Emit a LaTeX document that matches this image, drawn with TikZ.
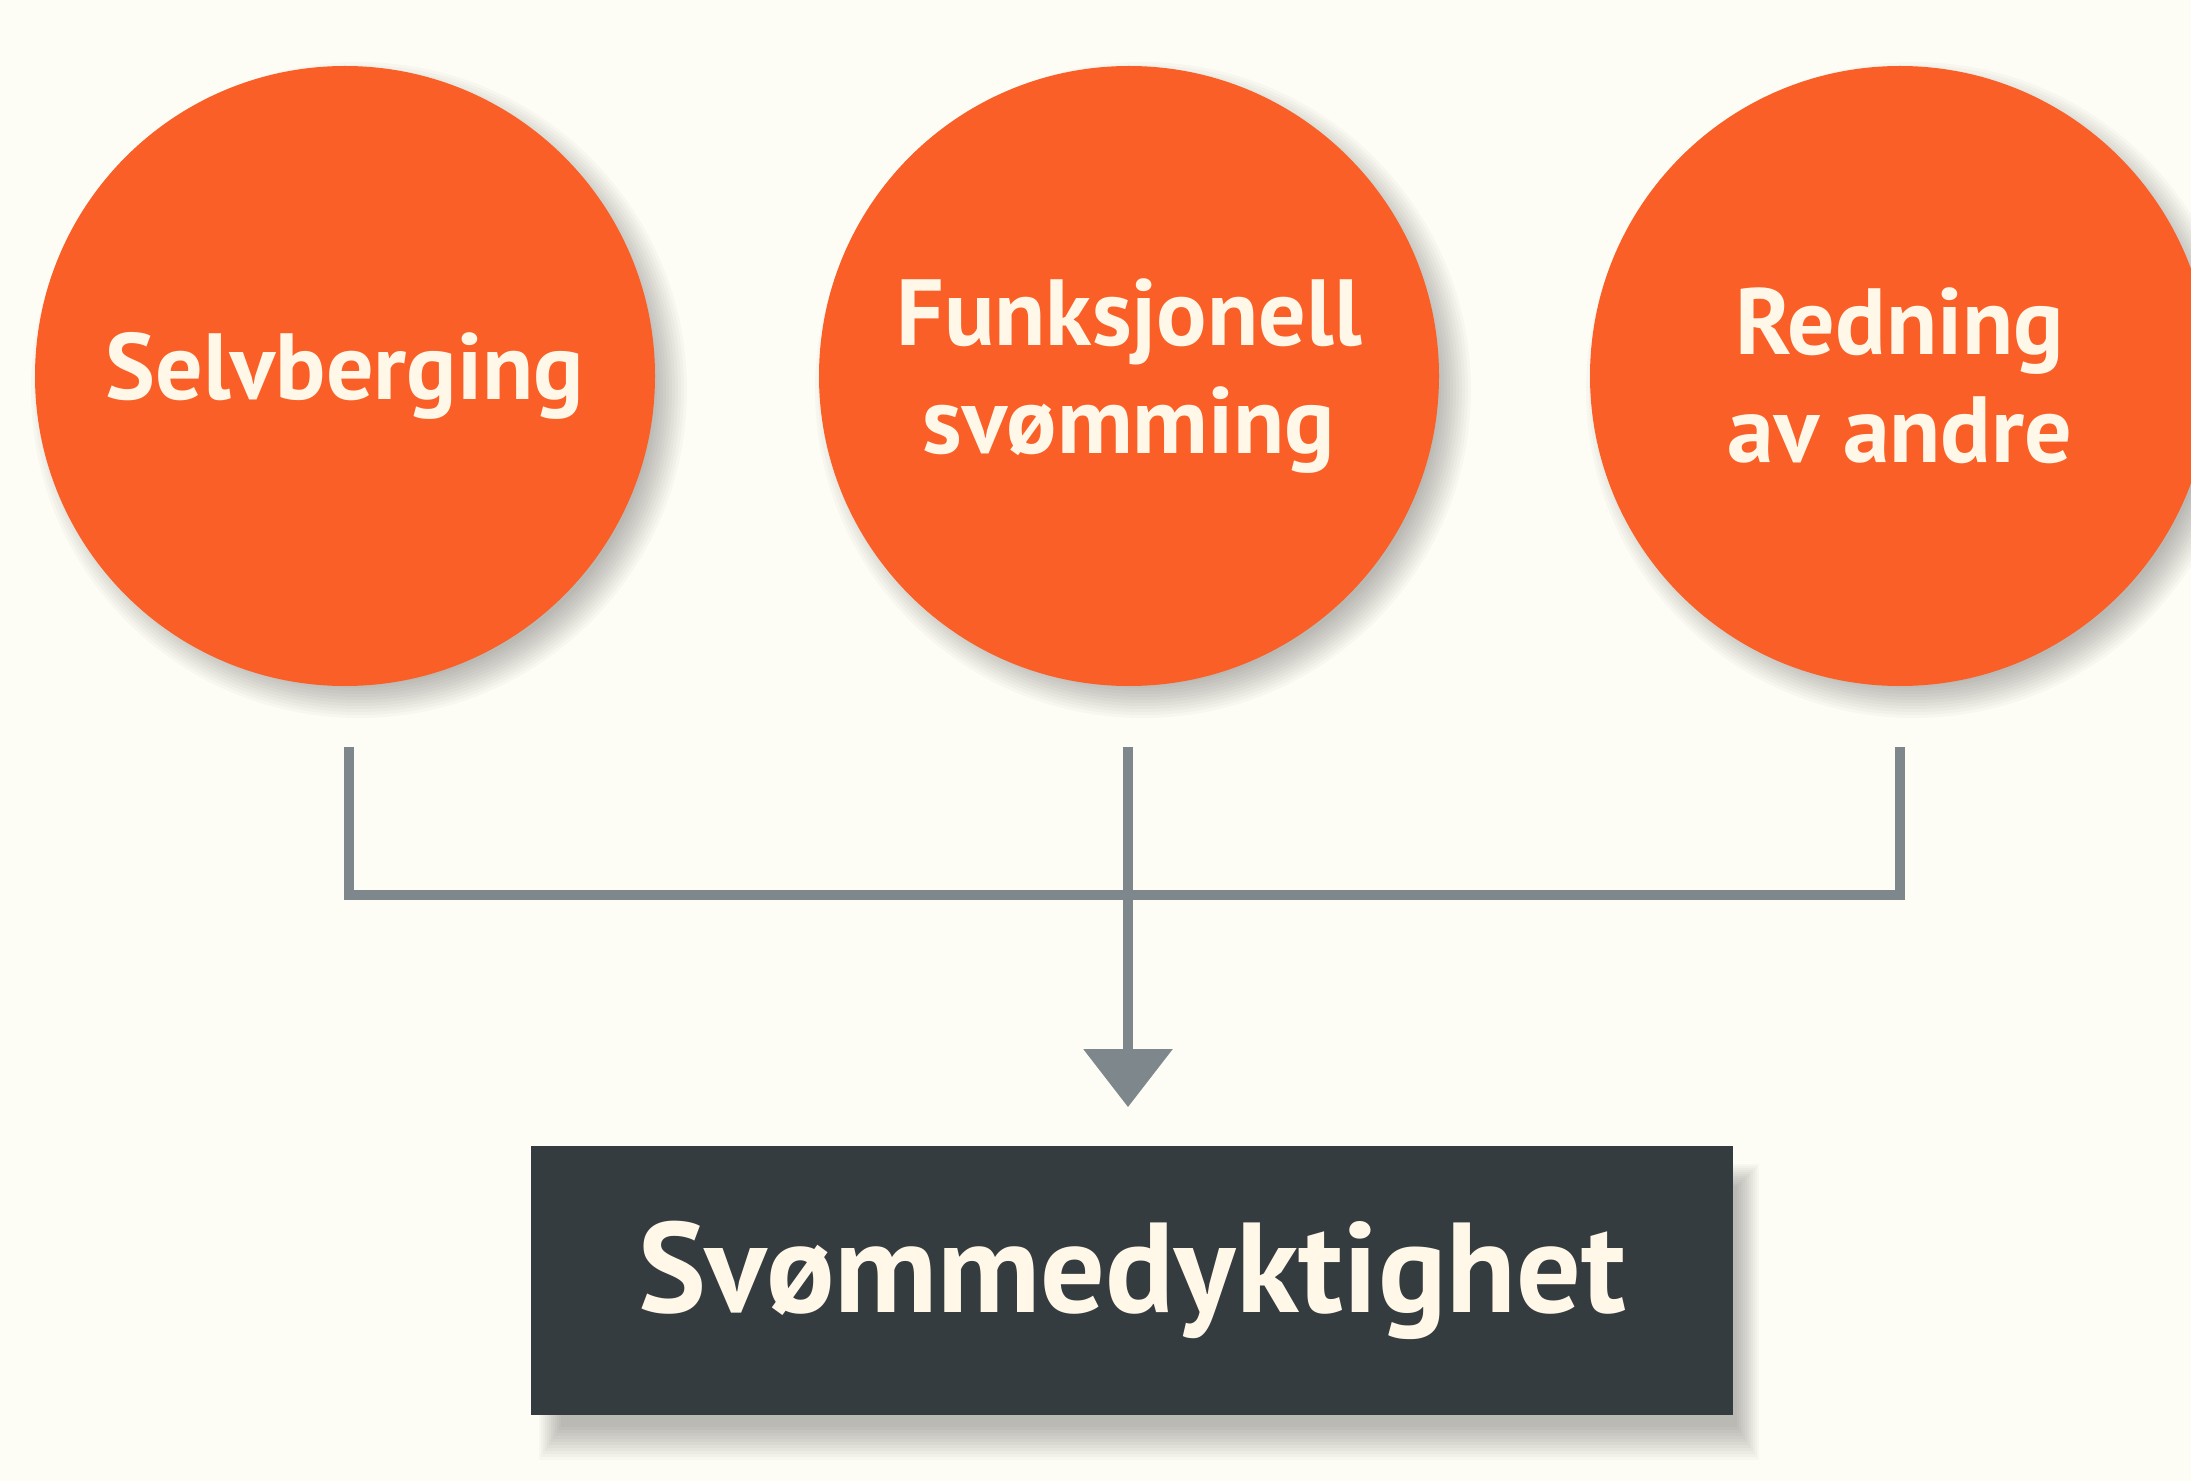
\documentclass[tikz,border=0pt]{standalone}
\usepackage{fontspec}
\setmainfont{PT Sans}
\usetikzlibrary{arrows.meta}
\definecolor{bg}{HTML}{FDFCF5}
\definecolor{org}{HTML}{F95F27}
\definecolor{txt}{HTML}{FFF7E8}
\definecolor{ln}{HTML}{7E878B}
\definecolor{dk}{HTML}{343C3F}
\begin{document}
\begin{tikzpicture}[x=0.5pt,y=-0.5pt,
  bubble/.style={circle,fill=org,minimum size=310pt,inner sep=0pt,text=txt,align=center,
    font=\fontsize{47}{54}\selectfont\bfseries},
  resultbox/.style={rectangle,fill=dk,minimum width=601pt,minimum height=134.5pt,inner sep=0pt,
    text=txt,font=\fontsize{64}{66}\selectfont\bfseries},
  conn/.style={draw=ln,line width=5pt},
  shad/.style={fill=black,opacity=0.022}]
\fill[bg] (0,0) rectangle (2191,1481);
\useasboundingbox (0,0) rectangle (2191,1481);
% shadows
\foreach \cx in {345,1129,1900}{
  \foreach \k in {0,...,11}{
    \fill[shad] (\cx+14,372+18) circle[radius=164pt-\k*1.5pt];
  }
}
\foreach \k in {0,...,11}{
  \fill[shad] (531+30-\k*2,1146+40-\k*2) rectangle (1733+4+\k*2,1415+12+\k*3);
}
\node[bubble] (c1) at (345,376) {Selvberging};
\node[bubble] (c2) at (1129,376) {Funksjonell\\svømming};
\node[bubble] (c3) at (1900,376) {Redning\\av andre};
\node[resultbox] (res) at (1132,1280) {Svømmedyktighet};
\coordinate (s1) at (349,747);
\coordinate (s2) at (1128,747);
\coordinate (s3) at (1900,747);
\coordinate (b1) at (349,895);
\coordinate (b3) at (1900,895);
\draw[conn] (s1) -- (b1) -- (b3) -- (s3);
\draw[conn,-{Triangle[length=29pt,width=43.5pt]}] (s2) -- ([yshift=19pt]res.north -| s2);
\end{tikzpicture}
\end{document}
